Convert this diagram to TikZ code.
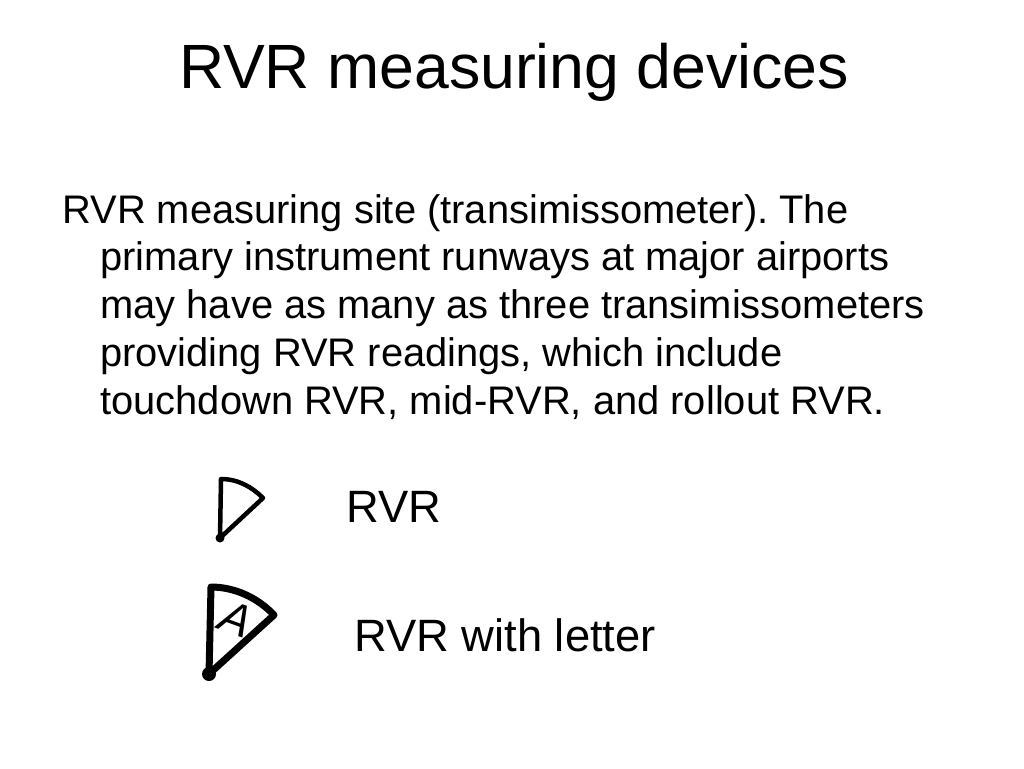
\documentclass[tikz,border=0pt]{standalone}
\usepackage{fontspec}
\setmainfont{Liberation Sans}
\frenchspacing
\tikzset{
  slidetitle/.style={anchor=base,font=\fontsize{35.6pt}{41pt}\selectfont,inner sep=0pt},
  slidetext/.style={anchor=base west,font=\fontsize{22.7pt}{27.3pt}\selectfont,inner sep=0pt},
  marklabel/.style={anchor=base west,font=\fontsize{25.8pt}{30pt}\selectfont,inner sep=0pt},
  thinmark/.style={line width=0.09cm,line join=round},
  thickmark/.style={line width=0.14cm,line join=round}
}
\begin{document}
\begin{tikzpicture}[x=0.02cm,y=-0.02cm]
\useasboundingbox (0,0) rectangle (1024,768);

\node[slidetitle] (title) at (514,88) {RVR measuring devices};

\node[slidetext] (lineone) at (62,223) {RVR measuring site (transimissometer). The};
\node[slidetext] (linetwo) at (100,270) {primary instrument runways at major airports};
\node[slidetext] (linethree) at (100,318) {may have as many as three transimissometers};
\node[slidetext] (linefour) at (100,366) {providing RVR readings, which include};
\node[slidetext] (linefive) at (100,414) {touchdown RVR, mid-RVR, and rollout RVR.};

% plain symbol
\coordinate (pivotplain) at (220,538);
\coordinate (topplain) at (221,479);
\coordinate (tipplain) at (263,498);
\draw[thinmark] (pivotplain) -- (topplain) .. controls (238,479) and (252,487) .. (tipplain) -- cycle;
\fill (pivotplain) circle (4.5);
\node[marklabel] (labelplain) at (346,522) {RVR};

% symbol with letter
\coordinate (pivotletter) at (209,674);
\coordinate (topletter) at (211,587);
\coordinate (tipletter) at (274,615);
\draw[thickmark] (pivotletter) -- (topletter) .. controls (235,587) and (258,598) .. (tipletter) -- cycle;
\fill (pivotletter) circle (7);
\node[font=\fontsize{26pt}{26pt}\selectfont\itshape,inner sep=0pt,rotate=-20] (letter) at (236,619) {A};
\node[marklabel] (labelletter) at (354,651) {RVR with letter};
\end{tikzpicture}
\end{document}
